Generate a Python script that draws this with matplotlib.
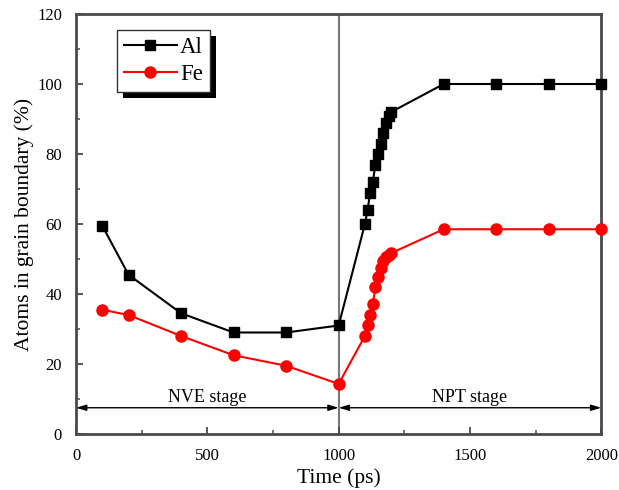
import matplotlib
matplotlib.use("Agg")
import matplotlib.pyplot as plt
from matplotlib.patches import Rectangle
from matplotlib.ticker import MultipleLocator

plt.rcParams["font.family"] = ["Liberation Serif", "DejaVu Serif"]

# ---------------------------------------------------------------------------
# Data
# ---------------------------------------------------------------------------
time_ps = [100, 200, 400, 600, 800, 1000,
           1100, 1110, 1120, 1130, 1140, 1150, 1160, 1170, 1180, 1190, 1200,
           1400, 1600, 1800, 2000]
al_pct = [59.5, 45.5, 34.5, 29, 29, 31,
          60, 64, 69, 72, 77, 80, 83, 86, 89, 91, 92,
          100, 100, 100, 100]
fe_pct = [35.5, 34, 28, 22.5, 19.5, 14.3,
          28, 31, 34, 37, 42, 45, 47.5, 49.5, 50.5, 51.2, 51.7,
          58.5, 58.5, 58.5, 58.5]

stage_split = 1000
stages = [("NVE stage", 0, 1000), ("NPT stage", 1000, 2000)]

SPINE = "#4a4a4a"

fig = plt.figure(figsize=(6.19, 4.90), dpi=100)
ax = fig.add_axes([0.1228, 0.1143, 0.8486, 0.8571])
ax.set_zorder(1)
ax.patch.set_visible(False)

ax.axvline(stage_split, color="#777777", lw=1.5, zorder=1)

ax.plot(time_ps, al_pct, color="black", lw=1.5, marker="s", ms=6.5,
        label="Al", zorder=3, clip_on=False)
ax.plot(time_ps, fe_pct, color="red", lw=1.5, marker="o", ms=8,
        label="Fe", zorder=3, clip_on=False)

# stage arrows
for name, x0, x1 in stages:
    ax.annotate("", xy=(x1, 7.5), xytext=(x0, 7.5),
                arrowprops=dict(arrowstyle="<|-|>,head_width=0.18,head_length=0.6",
                                color="black", lw=1.0, shrinkA=0, shrinkB=0),
                zorder=2)
    ax.text((x0 + x1) / 2, 10.3, name, ha="center", va="center", fontsize=13)

ax.set_xlim(0, 2000)
ax.set_ylim(0, 120)
ax.xaxis.set_major_locator(MultipleLocator(500))
ax.xaxis.set_minor_locator(MultipleLocator(250))
ax.yaxis.set_major_locator(MultipleLocator(20))
ax.yaxis.set_minor_locator(MultipleLocator(10))
ax.tick_params(which="both", direction="in", top=False, right=False,
               color=SPINE, labelsize=12, pad=10)
ax.tick_params(which="major", length=5, width=1.3)
ax.tick_params(which="minor", length=3, width=1.1)
for s in ax.spines.values():
    s.set_color(SPINE)
    s.set_linewidth(2)

ax.set_xlabel("Time (ps)", fontsize=15.5, labelpad=3)
ax.set_ylabel("Atoms in grain boundary (%)", fontsize=15.5, labelpad=2)

leg = ax.legend(loc="upper left", bbox_to_anchor=(0.078, 0.962), fontsize=16.5,
                fancybox=False, framealpha=1, edgecolor="#333333",
                handlelength=2.3, handletextpad=0.15, borderpad=0.3,
                labelspacing=0.25, borderaxespad=0)
leg.get_frame().set_linewidth(1.0)

# hard black drop shadow behind the legend (drawn under the axes)
fig.canvas.draw()
bb = leg.get_window_extent().transformed(fig.transFigure.inverted())
off_x, off_y = 6 / 619, 6 / 490
shadow = Rectangle((bb.x0 + off_x, bb.y0 - off_y), bb.width, bb.height,
                   transform=fig.transFigure, facecolor="black",
                   edgecolor="none", zorder=0.5)
fig.patches.append(shadow)
shadow.set_figure(fig)

fig.savefig("out.png", dpi=100)
